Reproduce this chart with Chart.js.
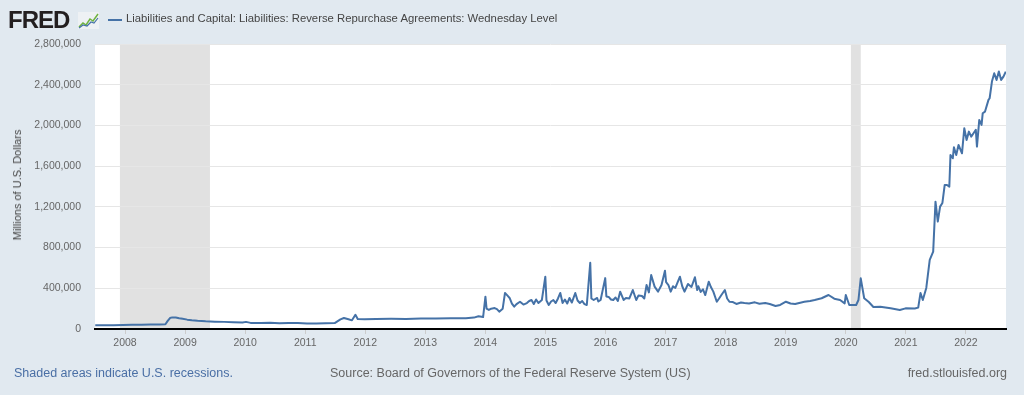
<!DOCTYPE html>
<html>
<head>
<meta charset="utf-8">
<script src="https://cdn.jsdelivr.net/npm/chart.js@4/dist/chart.umd.min.js"></script>
<style>
  html, body { margin: 0; padding: 0; background: #e1e9f0; }
  #wrap { position: relative; width: 1024px; height: 395px; overflow: hidden; font-family: 'Liberation Sans', Arial, sans-serif; }
  #chart { position: absolute; left: 0; top: 0; }
  .txt { position: absolute; white-space: nowrap; }
  #logo { left: 8px; top: 6px; font-size: 24px; font-weight: bold; letter-spacing: -1px; color: #231f20; }
  #icon { position: absolute; left: 78px; top: 12px; }
  #legendLine { position: absolute; left: 108px; top: 19px; width: 14px; height: 2px; background: #4572a7; }
  #title { left: 126px; top: 12px; font-size: 11.3px; color: #444; }
  #ytitle { left: 17px; top: 185px; font-size: 11px; color: #444; transform: translate(-50%, -50%) rotate(-90deg); }
  #shaded { left: 14px; top: 366px; font-size: 12.5px; color: #4a6fa5; }
  #source { left: 330px; top: 366px; font-size: 12.5px; color: #666; }
  #site { right: 17px; top: 366px; font-size: 12.5px; color: #666; }
</style>
</head>
<body>
<div id="wrap">
  <canvas id="chart" width="1024" height="395"></canvas>
  <div class="txt" id="logo">FRED</div>
  <svg id="icon" width="21" height="17" viewBox="0 0 21 17">
    <rect x="0" y="0" width="21" height="17" fill="#eef1f4"/>
    <polyline points="1,15 5,11 8,13 12,7 15,9 20,2" fill="none" stroke="#6fb33f" stroke-width="1.5"/>
    <polyline points="1,16 5,13 9,14 13,10 16,11 20,6" fill="none" stroke="#4572a7" stroke-width="1.2"/>
  </svg>
  <div id="legendLine"></div>
  <div class="txt" id="title">Liabilities and Capital: Liabilities: Reverse Repurchase Agreements: Wednesday Level</div>
  <div class="txt" id="ytitle">Millions of U.S. Dollars</div>
  <div class="txt" id="shaded">Shaded areas indicate U.S. recessions.</div>
  <div class="txt" id="source">Source: Board of Governors of the Federal Reserve System (US)</div>
  <div class="txt" id="site">fred.stlouisfed.org</div>
</div>
<script>
const dates = [
  '2007-07-04', '2007-08-29', '2007-10-24', '2007-12-19', '2008-02-13', '2008-04-09', '2008-06-04', '2008-07-30',
  '2008-09-03', '2008-09-17', '2008-10-01', '2008-10-15', '2008-11-05', '2008-11-26', '2008-12-17', '2009-01-14',
  '2009-02-11', '2009-03-18', '2009-05-06', '2009-07-01', '2009-08-26', '2009-10-21', '2009-12-16', '2010-01-06',
  '2010-02-03', '2010-04-07', '2010-06-02', '2010-07-28', '2010-09-22', '2010-11-17', '2011-01-12', '2011-03-09',
  '2011-05-04', '2011-06-29', '2011-08-03', '2011-08-24', '2011-09-21', '2011-10-12', '2011-11-02', '2011-11-16',
  '2011-12-28', '2012-03-07', '2012-06-06', '2012-09-05', '2012-12-05', '2013-03-06', '2013-06-05', '2013-09-04',
  '2013-10-23', '2013-11-20', '2013-12-18', '2014-01-01', '2014-01-08', '2014-01-22', '2014-02-05', '2014-02-26',
  '2014-03-12', '2014-03-26', '2014-04-16', '2014-04-30', '2014-05-14', '2014-05-28', '2014-06-11', '2014-06-25',
  '2014-07-09', '2014-07-30', '2014-08-20', '2014-09-10', '2014-09-24', '2014-10-08', '2014-10-22', '2014-11-05',
  '2014-11-19', '2014-12-10', '2014-12-31', '2015-01-07', '2015-01-21', '2015-02-04', '2015-02-18', '2015-03-04',
  '2015-03-18', '2015-04-01', '2015-04-15', '2015-04-29', '2015-05-13', '2015-05-27', '2015-06-10', '2015-07-01',
  '2015-07-15', '2015-07-29', '2015-08-12', '2015-08-26', '2015-09-09', '2015-09-30', '2015-10-07', '2015-10-21',
  '2015-11-11', '2015-11-18', '2015-12-02', '2015-12-30', '2016-01-06', '2016-01-20', '2016-02-03', '2016-02-17',
  '2016-03-02', '2016-03-16', '2016-03-30', '2016-04-20', '2016-05-04', '2016-05-25', '2016-06-15', '2016-07-06',
  '2016-07-20', '2016-08-10', '2016-08-24', '2016-09-07', '2016-09-21', '2016-10-05', '2016-10-26', '2016-11-16',
  '2016-12-07', '2016-12-28', '2017-01-04', '2017-01-18', '2017-02-01', '2017-02-15', '2017-03-01', '2017-03-29',
  '2017-04-12', '2017-04-26', '2017-05-17', '2017-06-07', '2017-06-28', '2017-07-12', '2017-07-19', '2017-08-02',
  '2017-08-16', '2017-08-30', '2017-09-20', '2017-10-04', '2017-10-18', '2017-11-08', '2017-11-22', '2017-12-06',
  '2017-12-27', '2018-01-10', '2018-01-24', '2018-02-14', '2018-03-07', '2018-04-04', '2018-04-25', '2018-05-23',
  '2018-06-27', '2018-07-25', '2018-08-29', '2018-09-26', '2018-10-31', '2018-11-28', '2019-01-02', '2019-01-30',
  '2019-02-27', '2019-04-24', '2019-05-29', '2019-06-26', '2019-08-07', '2019-09-18', '2019-10-23', '2019-11-27',
  '2019-12-25', '2020-01-01', '2020-01-22', '2020-03-04', '2020-03-18', '2020-04-01', '2020-04-22', '2020-05-20',
  '2020-06-17', '2020-07-29', '2020-09-30', '2020-11-25', '2020-12-30', '2021-02-24', '2021-03-17', '2021-03-31',
  '2021-04-14', '2021-05-05', '2021-05-26', '2021-06-16', '2021-06-30', '2021-07-14', '2021-07-28', '2021-08-11',
  '2021-08-25', '2021-09-08', '2021-09-22', '2021-09-29', '2021-10-13', '2021-10-20', '2021-11-03', '2021-11-17',
  '2021-12-08', '2021-12-22', '2022-01-05', '2022-01-19', '2022-02-02', '2022-02-16', '2022-03-02', '2022-03-09',
  '2022-03-23', '2022-04-06', '2022-04-13', '2022-04-27', '2022-05-18', '2022-05-25', '2022-06-08', '2022-06-22',
  '2022-07-06', '2022-07-20', '2022-08-03', '2022-08-17', '2022-08-31'
]
const values = [
  36000, 37000, 38000, 40000, 41000, 42000, 43000, 44000,
  46000, 80000, 108000, 114000, 112000, 105000, 100000, 92000,
  86000, 80000, 75000, 72000, 70000, 67000, 64000, 70000,
  60000, 58000, 61000, 57000, 60000, 58000, 54000, 55000,
  57000, 58000, 95000, 108000, 95000, 85000, 140000, 98000,
  95000, 98000, 100000, 99000, 102000, 104000, 106000, 105000,
  112000, 125000, 118000, 318000, 200000, 187000, 200000, 206000,
  195000, 170000, 200000, 354000, 330000, 305000, 250000, 219000,
  245000, 268000, 240000, 255000, 275000, 285000, 245000, 290000,
  255000, 285000, 514000, 280000, 236000, 270000, 285000, 255000,
  300000, 354000, 255000, 290000, 250000, 305000, 260000, 354000,
  280000, 255000, 275000, 245000, 236000, 650000, 300000, 285000,
  305000, 270000, 285000, 500000, 320000, 315000, 290000, 285000,
  310000, 275000, 367000, 285000, 305000, 300000, 383000, 285000,
  330000, 324000, 300000, 432000, 360000, 530000, 416000, 367000,
  432000, 573000, 460000, 432000, 367000, 420000, 403000, 514000,
  420000, 367000, 442000, 413000, 508000, 383000, 420000, 364000,
  390000, 334000, 465000, 410000, 367000, 268000, 300000, 334000,
  383000, 300000, 268000, 265000, 246000, 260000, 255000, 250000,
  262000, 248000, 255000, 245000, 226000, 236000, 268000, 250000,
  246000, 268000, 275000, 285000, 302000, 334000, 298000, 285000,
  252000, 334000, 236000, 236000, 285000, 498000, 302000, 265000,
  216000, 219000, 203000, 187000, 203000, 201000, 210000, 354000,
  285000, 403000, 678000, 760000, 1251000, 1055000, 1202000, 1238000,
  1415000, 1415000, 1399000, 1710000, 1677000, 1785000, 1710000, 1808000,
  1726000, 1972000, 1857000, 1939000, 1890000, 1923000, 1956000, 1792000,
  2054000, 2005000, 2120000, 2136000, 2251000, 2267000, 2431000, 2513000,
  2447000, 2529000, 2447000, 2480000, 2529000
]
const recessionStart = ['2007-12-01', '2020-02-01']
const recessionEnd = ['2009-06-01', '2020-04-01']
const yearTicks = [2008, 2009, 2010, 2011, 2012, 2013, 2014, 2015, 2016, 2017, 2018, 2019, 2020, 2021, 2022]

// date string -> decimal year, so a plain linear axis can be used
function toYear (s) {
  const d = new Date(s + 'T00:00:00Z')
  const y = d.getUTCFullYear()
  const start = Date.UTC(y, 0, 1)
  const end = Date.UTC(y + 1, 0, 1)
  return y + (d.getTime() - start) / (end - start)
}

const points = dates.map((d, i) => ({ x: toYear(d), y: values[i] }))

const backgroundPlugin = {
  id: 'background',
  beforeDraw (chart) {
    const { ctx, chartArea, scales } = chart
    ctx.save()
    ctx.fillStyle = '#ffffff'
    ctx.fillRect(chartArea.left, chartArea.top, chartArea.right - chartArea.left, chartArea.bottom - chartArea.top)
    ctx.fillStyle = '#e1e1e1'
    recessionStart.forEach((s, i) => {
      const x1 = scales.x.getPixelForValue(toYear(s))
      const x2 = scales.x.getPixelForValue(toYear(recessionEnd[i]))
      ctx.fillRect(x1, chartArea.top, x2 - x1, chartArea.bottom - chartArea.top)
    })
    ctx.restore()
  }
}

Chart.defaults.font.family = "'Liberation Sans', Arial, sans-serif"

new Chart(document.getElementById('chart'), {
  type: 'line',
  data: {
    datasets: [{
      data: points,
      borderColor: '#4572a7',
      borderWidth: 2,
      borderJoinStyle: 'round',
      pointRadius: 0,
      tension: 0,
      fill: false
    }]
  },
  options: {
    responsive: false,
    animation: false,
    layout: { padding: { top: 44, right: 18, bottom: 0, left: 0 } },
    plugins: { legend: { display: false }, tooltip: { enabled: false } },
    scales: {
      x: {
        type: 'linear',
        min: 2007.5,
        max: 2022.667,
        afterBuildTicks: scale => { scale.ticks = yearTicks.map(v => ({ value: v })) },
        afterFit: scale => { scale.height = 66 },
        ticks: { callback: v => String(v), color: '#666', font: { size: 10.5 }, padding: 3, maxRotation: 0, autoSkip: false },
        grid: { drawOnChartArea: false, drawTicks: true, tickLength: 5, color: '#cccccc' },
        border: { color: '#000000', width: 2 }
      },
      y: {
        min: 0,
        max: 2800000,
        afterFit: scale => { scale.width = 95 },
        ticks: { stepSize: 400000, callback: v => v.toLocaleString('en-US'), color: '#666', font: { size: 10.5 }, padding: 14 },
        grid: { color: '#e6e6e6', drawTicks: false },
        border: { display: false }
      }
    }
  },
  plugins: [backgroundPlugin]
})
</script>
</body>
</html>
